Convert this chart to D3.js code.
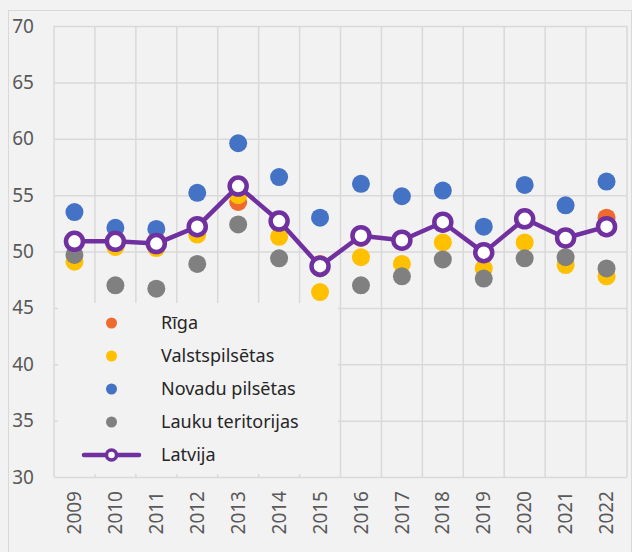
<!DOCTYPE html>
<html>
<head>
<meta charset="utf-8">
<script src="https://cdn.jsdelivr.net/npm/d3@7"></script>
<style>
  body { margin: 0; background: #f2f2f2; }
  svg { display: block; font-family: "Noto Sans", sans-serif; }
</style>
</head>
<body>
<div id="chart"></div>
<script>
var years = ["2009","2010","2011","2012","2013","2014","2015","2016","2017","2018","2019","2020","2021","2022"];
var riga = [50.9, 50.9, 51.0, 52.2, 54.4, 52.7, 48.9, 51.2, 51.0, 52.6, 50.0, 52.8, 51.2, 53.0];
var valsts = [49.1, 50.4, 50.3, 51.5, 55.0, 51.3, 46.4, 49.5, 48.9, 50.8, 48.5, 50.8, 48.8, 47.8];
var novadu = [53.5, 52.1, 52.0, 55.2, 59.6, 56.6, 53.0, 56.0, 54.9, 55.4, 52.2, 55.9, 54.1, 56.2];
var lauku = [49.7, 47.0, 46.7, 48.9, 52.4, 49.4, 48.5, 47.0, 47.8, 49.3, 47.6, 49.4, 49.5, 48.5];
var latvija = [50.9, 50.9, 50.7, 52.2, 55.8, 52.7, 48.7, 51.4, 51.0, 52.6, 49.9, 52.9, 51.2, 52.2];
var yTicks = [30, 35, 40, 45, 50, 55, 60, 65, 70];
var seriesNames = ["Rīga", "Valstspilsētas", "Novadu pilsētas", "Lauku teritorijas", "Latvija"];

var width = 632, height = 552;
var margin = { top: 26, right: 5, bottom: 75, left: 54 };

var svg = d3.select("#chart").append("svg")
    .attr("width", width)
    .attr("height", height);

// chart area border
svg.append("rect")
    .attr("x", 8.5).attr("y", 10.5)
    .attr("width", width - 9).attr("height", height - 10)
    .attr("fill", "#f2f2f2")
    .attr("stroke", "#d9d9d9");

var x = d3.scaleBand()
    .domain(years)
    .range([margin.left, width - margin.right])
    .padding(0);

var y = d3.scaleLinear()
    .domain([30, 70])
    .range([height - margin.bottom, margin.top]);

// horizontal grid + y labels
var yAxis = svg.append("g")
    .attr("transform", "translate(" + margin.left + ",0)")
    .call(d3.axisLeft(y).tickValues(yTicks)
        .tickSizeInner(-(width - margin.right - margin.left))
        .tickSizeOuter(0)
        .tickPadding(20));
yAxis.select(".domain").remove();
yAxis.selectAll("line").attr("stroke", "#d9d9d9").attr("stroke-width", 1.5);
yAxis.selectAll("text")
    .attr("fill", "#595959")
    .style("font-size", "19px")
    .style("font-family", "Noto Sans, sans-serif");

// vertical grid at band boundaries
var bounds = years.map(d => x(d)).concat([x.range()[1]]);
svg.append("g").selectAll("line")
    .data(bounds)
    .enter().append("line")
    .attr("x1", d => d).attr("x2", d => d)
    .attr("y1", y(70)).attr("y2", y(30))
    .attr("stroke", "#d9d9d9")
    .attr("stroke-width", 1.5);

// x labels
svg.append("g").selectAll("text")
    .data(years)
    .enter().append("text")
    .attr("transform", d => "translate(" + (x(d) + x.bandwidth() / 2) + "," + (y(30) + 14) + ") rotate(-90)")
    .attr("text-anchor", "end")
    .attr("dy", "0.35em")
    .attr("fill", "#595959")
    .style("font-size", "19px")
    .text(d => d);

// legend box (drawn over the grid)
var legend = svg.append("g");
legend.append("rect")
    .attr("x", 58).attr("y", 303)
    .attr("width", 280).attr("height", 171)
    .attr("fill", "#f2f2f2");

var dotSeries = [
    { name: seriesNames[0], values: riga, color: "#ee6a2e" },
    { name: seriesNames[1], values: valsts, color: "#ffc000" },
    { name: seriesNames[2], values: novadu, color: "#4472c4" },
    { name: seriesNames[3], values: lauku, color: "#808080" }
];

dotSeries.forEach(function(s) {
    svg.append("g").selectAll("circle")
        .data(s.values)
        .enter().append("circle")
        .attr("cx", (d, i) => x(years[i]) + x.bandwidth() / 2)
        .attr("cy", d => y(d))
        .attr("r", 9)
        .attr("fill", s.color);
});

// Latvija line
var line = d3.line()
    .x((d, i) => x(years[i]) + x.bandwidth() / 2)
    .y(d => y(d));

svg.append("path")
    .datum(latvija)
    .attr("d", line)
    .attr("fill", "none")
    .attr("stroke", "#7030a0")
    .attr("stroke-width", 4.5)
    .attr("stroke-linejoin", "round");

svg.append("g").selectAll("circle")
    .data(latvija)
    .enter().append("circle")
    .attr("cx", (d, i) => x(years[i]) + x.bandwidth() / 2)
    .attr("cy", d => y(d))
    .attr("r", 8.5)
    .attr("fill", "#ffffff")
    .attr("stroke", "#7030a0")
    .attr("stroke-width", 4.5);

// legend entries
var legY = [323, 356, 389, 422, 455];
var legMarkX = 111.5, legTextX = 161;

dotSeries.forEach(function(s, i) {
    legend.append("circle")
        .attr("cx", legMarkX).attr("cy", legY[i])
        .attr("r", 5.5)
        .attr("fill", s.color);
});
legend.append("line")
    .attr("x1", 84).attr("x2", 139)
    .attr("y1", legY[4]).attr("y2", legY[4])
    .attr("stroke", "#7030a0")
    .attr("stroke-width", 4.5)
    .attr("stroke-linecap", "round");
legend.append("circle")
    .attr("cx", legMarkX).attr("cy", legY[4])
    .attr("r", 5)
    .attr("fill", "#ffffff")
    .attr("stroke", "#7030a0")
    .attr("stroke-width", 3.5);

legend.selectAll("text.leg")
    .data(seriesNames)
    .enter().append("text")
    .attr("class", "leg")
    .attr("x", legTextX)
    .attr("y", (d, i) => legY[i])
    .attr("dy", "0.35em")
    .attr("fill", "#262626")
    .style("font-size", "18px")
    .text(d => d);
</script>
</body>
</html>
